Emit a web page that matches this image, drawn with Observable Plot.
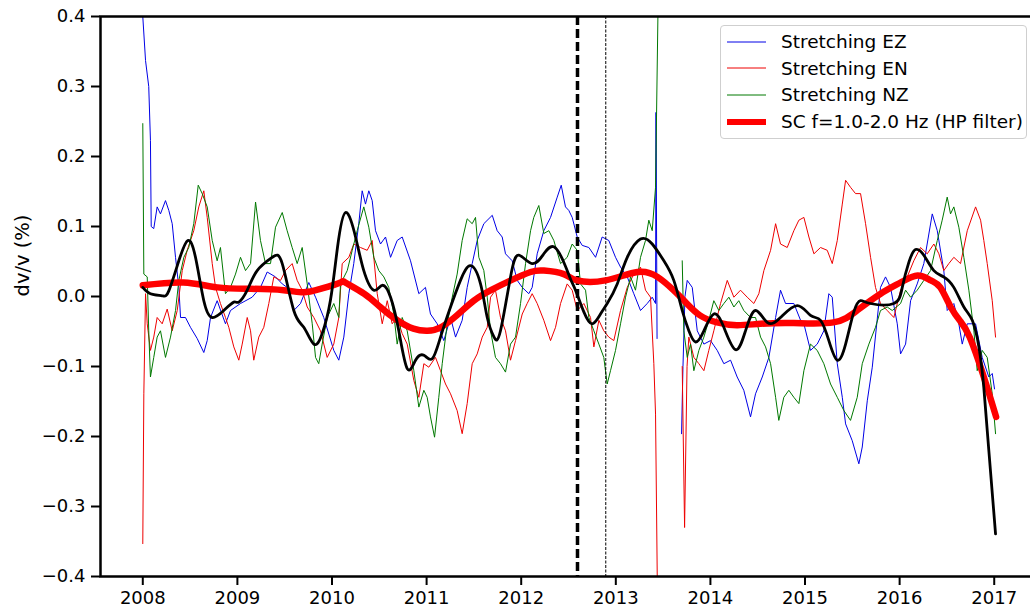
<!DOCTYPE html>
<html>
<head>
<meta charset="utf-8">
<script src="https://cdn.jsdelivr.net/npm/d3@7"></script>
<script src="https://cdn.jsdelivr.net/npm/@observablehq/plot@0.6"></script>
<style>
  html, body { margin: 0; padding: 0; background: #fff; }
  #wrap { position: relative; width: 1030px; height: 610px; overflow: hidden; font-family: "DejaVu Sans", sans-serif; }
  #legend { position: absolute; left: 720px; top: 25px; width: 307px; height: 114px; border: 1px solid #cfcfcf; border-radius: 4px; background: rgba(255,255,255,0.85); box-sizing: border-box; }
  .row { position: absolute; left: 0; height: 26px; display: flex; align-items: center; }
  .row svg { margin-left: 6px; margin-right: 15px; }
  .row span { font-size: 18.5px; color: #000; white-space: nowrap; }
</style>
</head>
<body>
<div id="wrap"><div id="chart"></div><div id="legend"></div></div>
<script>
// ---- Data (decimal year, dv/v %) ----
const seriesNames = ["Stretching EZ", "Stretching EN", "Stretching NZ", "SC f=1.0-2.0 Hz (HP filter)"];
const yTicks = [-0.4, -0.3, -0.2, -0.1, 0.0, 0.1, 0.2, 0.3, 0.4];
const xTicks = [2008, 2009, 2010, 2011, 2012, 2013, 2014, 2015, 2016, 2017];
const eventLines = [2012.595, 2012.894];

const ez = [[2008.00,0.40],[2008.029,0.337],[2008.063,0.30],[2008.081,0.223],[2008.089,0.10],[2008.116,0.097],[2008.152,0.128],[2008.187,0.118],[2008.240,0.137],[2008.275,0.123],[2008.311,0.104],[2008.346,0.056],[2008.381,0.013],[2008.399,-0.03],[2008.451,-0.03],[2008.504,-0.044],[2008.575,-0.06],[2008.645,-0.08],[2008.681,-0.063],[2008.716,-0.03],[2008.786,-0.006],[2008.874,-0.039],[2008.927,-0.02],[2009.033,-0.01],[2009.156,-0.001],[2009.244,0.013],[2009.315,0.035],[2009.403,0.028],[2009.474,0.018],[2009.526,0.013],[2009.596,-0.02],[2009.667,-0.01],[2009.755,0.02],[2009.826,-0.001],[2009.913,-0.03],[2010.019,-0.077],[2010.072,-0.091],[2010.125,-0.058],[2010.178,0.004],[2010.230,0.047],[2010.283,0.104],[2010.319,0.151],[2010.354,0.132],[2010.389,0.151],[2010.425,0.137],[2010.460,0.094],[2010.513,0.075],[2010.566,0.085],[2010.619,0.056],[2010.689,0.08],[2010.742,0.085],[2010.830,0.051],[2010.918,0.004],[2010.988,0.013],[2011.041,-0.025],[2011.112,-0.039],[2011.182,-0.063],[2011.253,-0.03],[2011.306,-0.058],[2011.376,-0.034],[2011.429,0.013],[2011.482,0.047],[2011.535,0.08],[2011.605,0.104],[2011.694,0.116],[2011.746,0.094],[2011.799,0.085],[2011.834,0.061],[2011.905,0.051],[2011.958,0.023],[2012.011,0.013],[2012.080,0.004],[2012.116,0.013],[2012.169,0.061],[2012.239,0.094],[2012.310,0.113],[2012.381,0.142],[2012.423,0.159],[2012.468,0.128],[2012.503,0.123],[2012.539,0.113],[2012.592,0.085],[2012.645,0.073],[2012.715,0.07],[2012.786,0.056],[2012.856,0.085],[2012.926,0.08],[2012.997,0.056],[2013.050,0.042],[2013.121,0.028],[2013.190,0.004],[2013.261,-0.02],[2013.332,-0.01],[2013.385,-0.001],[2013.420,-0.01],[2013.425,0.263],[2013.436,-0.06],[2013.55,null],[2013.695,-0.196],[2013.710,-0.10],[2013.731,0.0],[2013.755,0.023],[2013.808,0.013],[2013.861,-0.049],[2013.931,-0.068],[2014.001,-0.063],[2014.072,-0.077],[2014.142,-0.096],[2014.213,-0.091],[2014.283,-0.115],[2014.353,-0.134],[2014.424,-0.172],[2014.477,-0.139],[2014.548,-0.115],[2014.618,-0.087],[2014.689,-0.03],[2014.741,0.009],[2014.794,-0.01],[2014.882,-0.01],[2014.953,-0.034],[2014.988,-0.039],[2015.058,-0.077],[2015.129,-0.068],[2015.199,-0.049],[2015.252,0.004],[2015.288,-0.001],[2015.341,-0.096],[2015.394,-0.144],[2015.429,-0.182],[2015.499,-0.206],[2015.569,-0.239],[2015.605,-0.215],[2015.658,-0.149],[2015.711,-0.101],[2015.798,0.013],[2015.851,0.028],[2015.904,0.013],[2015.975,-0.039],[2016.010,-0.082],[2016.063,-0.068],[2016.116,-0.006],[2016.186,0.018],[2016.256,0.047],[2016.345,0.118],[2016.398,0.094],[2016.467,0.037],[2016.503,-0.02],[2016.573,-0.01],[2016.626,-0.039],[2016.662,-0.068],[2016.715,-0.039],[2016.803,-0.039],[2016.873,-0.087],[2016.943,-0.115],[2016.979,-0.11],[2017.003,-0.132]];

const en = [[2008.00,-0.353],[2008.011,-0.139],[2008.029,0.004],[2008.047,-0.039],[2008.081,-0.077],[2008.116,-0.058],[2008.152,-0.03],[2008.205,-0.039],[2008.258,-0.018],[2008.311,-0.049],[2008.364,-0.02],[2008.417,0.037],[2008.469,0.066],[2008.539,0.094],[2008.592,0.128],[2008.645,0.151],[2008.681,0.113],[2008.734,0.047],[2008.769,0.013],[2008.821,-0.01],[2008.874,-0.03],[2008.909,-0.044],[2008.962,-0.072],[2009.015,-0.091],[2009.051,-0.068],[2009.104,-0.03],[2009.139,-0.049],[2009.173,-0.091],[2009.226,-0.058],[2009.279,-0.044],[2009.332,-0.01],[2009.385,0.028],[2009.456,0.023],[2009.508,0.037],[2009.579,0.047],[2009.632,0.023],[2009.685,0.009],[2009.738,-0.015],[2009.808,-0.03],[2009.878,-0.049],[2009.949,-0.087],[2010.019,-0.068],[2010.072,-0.03],[2010.108,0.047],[2010.178,0.056],[2010.230,0.075],[2010.301,0.07],[2010.372,0.066],[2010.425,0.08],[2010.478,0.004],[2010.531,-0.039],[2010.584,-0.006],[2010.636,-0.039],[2010.689,-0.03],[2010.742,-0.053],[2010.795,-0.068],[2010.865,-0.12],[2010.918,-0.144],[2010.971,-0.096],[2011.023,-0.101],[2011.094,-0.087],[2011.147,-0.106],[2011.200,-0.125],[2011.253,-0.139],[2011.323,-0.163],[2011.376,-0.196],[2011.429,-0.153],[2011.482,-0.096],[2011.535,-0.082],[2011.588,-0.058],[2011.641,-0.044],[2011.676,-0.001],[2011.728,0.009],[2011.781,-0.03],[2011.834,-0.049],[2011.887,-0.091],[2011.940,-0.063],[2012.011,-0.025],[2012.063,-0.01],[2012.116,0.004],[2012.169,-0.01],[2012.239,-0.034],[2012.310,-0.063],[2012.363,-0.044],[2012.416,-0.01],[2012.486,0.018],[2012.539,0.009],[2012.592,-0.02],[2012.662,-0.01],[2012.733,-0.03],[2012.768,-0.072],[2012.821,-0.034],[2012.873,-0.049],[2012.926,-0.058],[2012.979,-0.063],[2013.050,-0.02],[2013.121,0.013],[2013.190,0.032],[2013.261,0.042],[2013.314,0.009],[2013.367,-0.001],[2013.402,-0.096],[2013.420,-0.168],[2013.438,-0.40],[2013.55,null],[2013.702,-0.10],[2013.727,-0.33],[2013.753,-0.10],[2013.772,-0.058],[2013.825,-0.087],[2013.878,-0.096],[2013.931,-0.106],[2013.983,-0.077],[2014.036,-0.049],[2014.107,-0.01],[2014.178,0.023],[2014.248,-0.001],[2014.318,0.009],[2014.389,-0.001],[2014.459,-0.01],[2014.512,0.004],[2014.565,0.037],[2014.636,0.066],[2014.689,0.104],[2014.741,0.075],[2014.812,0.07],[2014.882,0.094],[2014.935,0.109],[2014.988,0.113],[2015.041,0.085],[2015.094,0.061],[2015.164,0.07],[2015.235,0.066],[2015.288,0.047],[2015.341,0.08],[2015.394,0.132],[2015.429,0.166],[2015.481,0.156],[2015.534,0.147],[2015.587,0.147],[2015.640,0.104],[2015.693,0.056],[2015.745,0.013],[2015.798,-0.01],[2015.869,-0.02],[2015.939,-0.03],[2016.010,0.009],[2016.080,0.028],[2016.150,0.051],[2016.221,0.07],[2016.292,0.061],[2016.362,0.075],[2016.415,0.061],[2016.467,0.037],[2016.520,0.047],[2016.573,0.056],[2016.644,0.047],[2016.715,0.094],[2016.803,0.128],[2016.856,0.109],[2016.890,0.08],[2016.926,0.047],[2016.979,-0.006],[2017.014,-0.058]];

const nz = [[2008.00,0.247],[2008.011,0.032],[2008.047,0.028],[2008.063,-0.049],[2008.081,-0.115],[2008.116,-0.087],[2008.152,-0.058],[2008.187,-0.049],[2008.240,-0.087],[2008.293,-0.058],[2008.346,-0.02],[2008.381,0.023],[2008.434,0.056],[2008.486,0.07],[2008.539,0.104],[2008.586,0.159],[2008.628,0.147],[2008.681,0.128],[2008.734,0.08],[2008.786,0.051],[2008.821,0.07],[2008.874,0.004],[2008.927,0.013],[2008.980,0.032],[2009.033,0.056],[2009.086,0.037],[2009.139,0.047],[2009.192,0.135],[2009.244,0.08],[2009.297,0.047],[2009.350,0.047],[2009.403,0.099],[2009.474,0.12],[2009.526,0.094],[2009.579,0.07],[2009.632,0.047],[2009.685,0.07],[2009.738,0.018],[2009.791,-0.039],[2009.826,-0.087],[2009.860,-0.096],[2009.896,-0.068],[2009.949,-0.03],[2010.019,-0.01],[2010.072,-0.03],[2010.090,0.018],[2010.161,0.037],[2010.214,0.066],[2010.266,0.094],[2010.336,0.128],[2010.389,0.099],[2010.442,0.056],[2010.495,0.037],[2010.548,0.028],[2010.600,0.013],[2010.653,-0.025],[2010.689,-0.068],[2010.742,-0.03],[2010.795,-0.049],[2010.865,-0.106],[2010.918,-0.158],[2010.971,-0.134],[2011.006,-0.144],[2011.041,-0.172],[2011.084,-0.201],[2011.129,-0.144],[2011.165,-0.096],[2011.218,-0.039],[2011.271,-0.001],[2011.323,0.032],[2011.376,0.08],[2011.429,0.111],[2011.482,0.104],[2011.517,0.113],[2011.552,0.056],[2011.605,0.037],[2011.641,-0.001],[2011.676,-0.049],[2011.728,-0.087],[2011.781,-0.096],[2011.834,-0.108],[2011.887,-0.068],[2011.940,-0.058],[2011.993,-0.01],[2012.046,0.047],[2012.099,0.094],[2012.133,0.113],[2012.186,0.13],[2012.239,0.09],[2012.292,0.094],[2012.345,0.08],[2012.416,0.047],[2012.486,0.056],[2012.539,0.075],[2012.592,0.066],[2012.627,0.018],[2012.680,0.009],[2012.715,-0.03],[2012.768,-0.049],[2012.821,-0.068],[2012.873,-0.087],[2012.909,-0.125],[2012.944,-0.106],[2012.997,-0.077],[2013.050,-0.039],[2013.103,-0.001],[2013.156,0.028],[2013.208,0.009],[2013.261,0.056],[2013.314,0.08],[2013.349,0.109],[2013.385,0.094],[2013.420,0.156],[2013.445,0.40],[2013.55,null],[2013.702,0.051],[2013.719,-0.049],[2013.755,-0.087],[2013.790,-0.068],[2013.825,-0.106],[2013.878,-0.077],[2013.931,-0.058],[2013.983,-0.034],[2014.036,-0.006],[2014.089,-0.02],[2014.142,-0.01],[2014.195,-0.001],[2014.248,-0.015],[2014.300,-0.006],[2014.353,-0.02],[2014.424,-0.03],[2014.477,-0.03],[2014.530,-0.058],[2014.583,-0.072],[2014.636,-0.096],[2014.689,-0.144],[2014.723,-0.177],[2014.776,-0.144],[2014.829,-0.134],[2014.882,-0.144],[2014.935,-0.153],[2014.988,-0.106],[2015.058,-0.068],[2015.129,-0.077],[2015.199,-0.096],[2015.270,-0.125],[2015.341,-0.144],[2015.411,-0.163],[2015.481,-0.177],[2015.552,-0.144],[2015.605,-0.096],[2015.675,-0.068],[2015.745,-0.044],[2015.798,-0.02],[2015.869,-0.015],[2015.922,-0.02],[2016.010,-0.01],[2016.063,0.009],[2016.116,-0.001],[2016.186,0.009],[2016.256,0.023],[2016.327,0.037],[2016.398,0.08],[2016.450,0.109],[2016.503,0.142],[2016.538,0.118],[2016.573,0.128],[2016.626,0.099],[2016.679,0.056],[2016.732,0.009],[2016.785,-0.049],[2016.820,-0.106],[2016.873,-0.077],[2016.926,-0.087],[2016.979,-0.139],[2017.014,-0.196]];

const scSmooth = [[2008.00,0.013],[2008.081,0.004],[2008.205,0.001],[2008.275,0.008],[2008.381,0.051],[2008.476,0.08],[2008.557,0.056],[2008.645,-0.006],[2008.734,-0.03],[2008.856,-0.02],[2008.962,-0.008],[2009.015,-0.008],[2009.104,0.009],[2009.209,0.037],[2009.368,0.056],[2009.474,0.047],[2009.596,-0.02],[2009.702,-0.044],[2009.808,-0.068],[2009.896,-0.053],[2009.984,-0.005],[2010.058,0.07],[2010.143,0.12],[2010.249,0.085],[2010.336,0.037],[2010.442,0.009],[2010.531,0.016],[2010.619,-0.001],[2010.706,-0.049],[2010.795,-0.103],[2010.883,-0.091],[2010.971,-0.084],[2011.059,-0.089],[2011.147,-0.058],[2011.253,-0.015],[2011.358,0.023],[2011.464,0.044],[2011.570,0.018],[2011.641,-0.03],[2011.713,-0.058],[2011.781,-0.049],[2011.887,0.028],[2011.975,0.059],[2012.116,0.047],[2012.239,0.061],[2012.345,0.071],[2012.450,0.049],[2012.521,0.025],[2012.574,0.009],[2012.662,-0.022],[2012.751,-0.039],[2012.838,-0.025],[2012.909,-0.01],[2013.015,0.018],[2013.121,0.056],[2013.261,0.082],[2013.385,0.075],[2013.508,0.051],[2013.613,0.023],[2013.702,-0.02],[2013.772,-0.049],[2013.843,-0.065],[2013.931,-0.049],[2014.036,-0.025],[2014.142,-0.044],[2014.266,-0.076],[2014.371,-0.049],[2014.477,-0.02],[2014.600,-0.037],[2014.741,-0.03],[2014.918,-0.013],[2015.058,-0.027],[2015.164,-0.034],[2015.252,-0.063],[2015.341,-0.091],[2015.429,-0.068],[2015.516,-0.022],[2015.587,-0.006],[2015.693,-0.01],[2015.939,-0.01],[2016.028,0.013],[2016.098,0.049],[2016.168,0.067],[2016.256,0.059],[2016.362,0.037],[2016.467,0.028],[2016.573,0.013],[2016.679,-0.015],[2016.768,-0.034],[2016.838,-0.072],[2016.890,-0.13],[2016.943,-0.22],[2017.014,-0.339]];

const scHP = [[2008.00,0.016],[2008.43,0.02],[2008.79,0.013],[2009.14,0.011],[2009.49,0.009],[2009.70,0.006],[2009.88,0.011],[2010.09,0.02],[2010.14,0.02],[2010.34,0.004],[2010.51,-0.015],[2010.69,-0.034],[2010.86,-0.046],[2011.01,-0.049],[2011.15,-0.044],[2011.32,-0.027],[2011.50,-0.006],[2011.68,0.009],[2011.89,0.023],[2012.10,0.035],[2012.24,0.037],[2012.45,0.032],[2012.59,0.023],[2012.89,0.023],[2013.23,0.035],[2013.44,0.028],[2013.61,0.009],[2013.75,-0.01],[2013.89,-0.027],[2014.07,-0.037],[2014.28,-0.041],[2014.53,-0.039],[2014.88,-0.038],[2015.30,-0.037],[2015.55,-0.02],[2015.80,0.004],[2016.01,0.02],[2016.19,0.03],[2016.33,0.023],[2016.43,0.013],[2016.54,-0.015],[2016.64,-0.035],[2016.74,-0.058],[2016.89,-0.115],[2017.02,-0.172]];

const colors = {ez: "#0000e6", en: "#ee0000", nz: "#007800", hp: "#ff0000", sm: "#000000"};

const fmtY = d => (d < 0 ? "\u2212" : "") + Math.abs(d).toFixed(1);

const chart = Plot.plot({
  width: 1030,
  height: 610,
  marginLeft: 100,
  marginRight: -8,
  marginTop: 16,
  marginBottom: 34,
  style: {fontFamily: "DejaVu Sans, sans-serif", fontSize: "18px", color: "#000", background: "#fff", overflow: "hidden"},
  x: {domain: [2007.553, 2017.468]},
  y: {domain: [-0.4, 0.4]},
  marks: [
    Plot.line(ez, {x: d => d[0], y: d => d[1], stroke: colors.ez, strokeWidth: 1, clip: true}),
    Plot.line(en, {x: d => d[0], y: d => d[1], stroke: colors.en, strokeWidth: 1, clip: true}),
    Plot.line(nz, {x: d => d[0], y: d => d[1], stroke: colors.nz, strokeWidth: 1, clip: true}),
    Plot.ruleX([eventLines[0]], {stroke: "#000", strokeWidth: 3.5, strokeDasharray: "9,4"}),
    Plot.ruleX([eventLines[1]], {stroke: "#000", strokeWidth: 1, strokeDasharray: "3,1.5"}),
    Plot.line(scHP, {x: d => d[0], y: d => d[1], stroke: colors.hp, strokeWidth: 6.5, curve: "natural", clip: true}),
    Plot.line(scSmooth, {x: d => d[0], y: d => d[1], stroke: colors.sm, strokeWidth: 2.8, curve: "natural", clip: true}),
    Plot.frame({stroke: "#000", strokeWidth: 2.5}),
    Plot.axisX({ticks: xTicks, tickFormat: d => String(d), tickSize: 9, tickPadding: 6, strokeWidth: 2, fontSize: 18, label: null}),
    Plot.axisY({ticks: yTicks, tickFormat: fmtY, tickSize: 9, tickPadding: 6, strokeWidth: 2, fontSize: 18, label: null}),
    Plot.text(["dv/v (%)"], {frameAnchor: "left", dx: -78, rotate: -90, fontSize: 19.5, text: d => d})
  ]
});
document.getElementById("chart").appendChild(chart);

// Legend
const legend = document.getElementById("legend");
const items = [
  {name: seriesNames[0], color: colors.ez, w: 1},
  {name: seriesNames[1], color: colors.en, w: 1},
  {name: seriesNames[2], color: colors.nz, w: 1},
  {name: seriesNames[3], color: colors.hp, w: 6}
];
items.forEach((it, i) => {
  const row = document.createElement("div");
  row.className = "row";
  row.style.top = (2.5 + i * 26.7) + "px";
  row.innerHTML = `<svg width="39" height="10"><line x1="0" x2="39" y1="5" y2="5" stroke="${it.color}" stroke-width="${it.w}"/></svg><span>${it.name}</span>`;
  legend.appendChild(row);
});
</script>
</body>
</html>
